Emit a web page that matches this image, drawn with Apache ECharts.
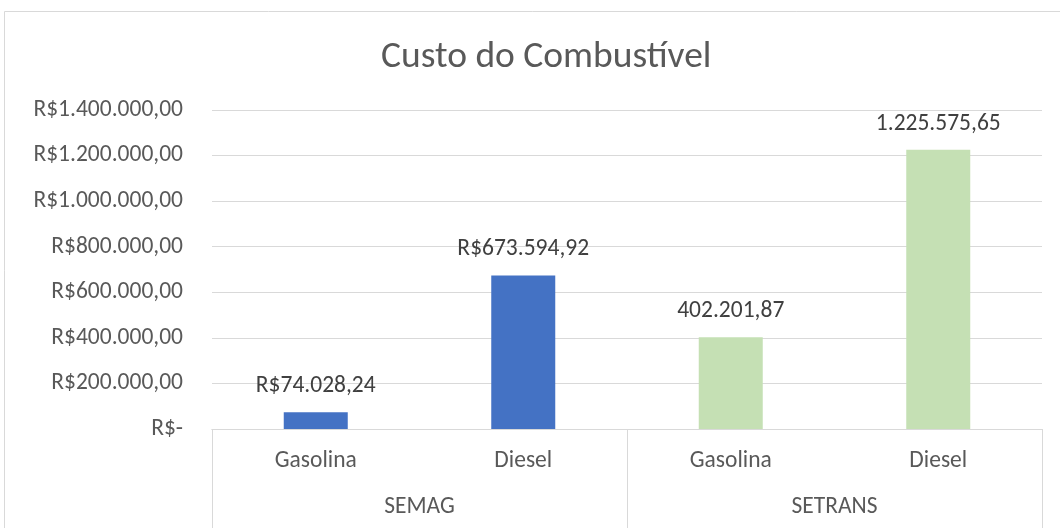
<!DOCTYPE html>
<html>
<head>
<meta charset="utf-8">
<script src="https://cdn.jsdelivr.net/npm/echarts@6/dist/echarts.min.js"></script>
<style>html,body{margin:0;padding:0;background:#fff}#c{width:1060px;height:528px}</style>
</head>
<body>
<div id="c"></div>
<script>
const titleText = 'Custo do Combustível';
const categories = ['Gasolina', 'Diesel', 'Gasolina', 'Diesel'];
const groups = ['SEMAG', 'SETRANS'];
const groupOfCategory = [0, 0, 1, 1];
const values = [74028.24, 673594.92, 402201.87, 1225575.65];
const labelPrefixByGroup = ['R$', ''];
const yMin = 0, yMax = 1400000, yStep = 200000;

const groupColors = ['#4472C4', '#C5E0B4'];
const FONT = 'Carlito, "Open Sans", sans-serif';
const FS = 23.5;

function fmt(v) {
  const parts = v.toFixed(2).split('.');
  return parts[0].replace(/\B(?=(\d{3})+(?!\d))/g, '.') + ',' + parts[1];
}

const chart = echarts.init(document.getElementById('c'), null, {renderer: 'canvas'});
chart.setOption({
  animation: false,
  backgroundColor: '#fff',
  graphic: [{
    type: 'rect', shape: {x: 4.5, y: 11.5, width: 1200, height: 700},
    style: {fill: 'none', stroke: '#d9d9d9', lineWidth: 1}, silent: true, z: -1
  }],
  title: {
    text: titleText, left: 376, top: 34,
    textStyle: {fontFamily: FONT, fontSize: 37.5, fontWeight: 'normal', color: '#595959'}
  },
  grid: {left: 212, right: 18, top: 110, bottom: 99, containLabel: false, outerBoundsMode: 'none'},
  xAxis: [{
    type: 'category', data: categories, position: 'bottom',
    axisLine: {show: true, lineStyle: {color: '#d9d9d9', width: 1}},
    axisTick: {show: false},
    axisLabel: {margin: 20, fontFamily: FONT, fontSize: FS, color: '#595959', interval: 0}
  }, {
    type: 'category', data: groups, position: 'bottom',
    axisLine: {show: true, lineStyle: {color: '#d9d9d9', width: 1}},
    axisTick: {show: true, length: 110, lineStyle: {color: '#d9d9d9', width: 1}},
    axisLabel: {margin: 66, fontFamily: FONT, fontSize: FS, color: '#595959', interval: 0}
  }],
  yAxis: {
    type: 'value', min: yMin, max: yMax, interval: yStep,
    axisLine: {show: false}, axisTick: {show: false},
    splitLine: {lineStyle: {color: '#d9d9d9', width: 1}},
    axisLabel: {
      margin: 29, fontFamily: FONT, fontSize: FS, color: '#595959',
      formatter: v => v === 0 ? 'R$-' : 'R$' + fmt(v)
    }
  },
  series: [{
    type: 'bar', xAxisIndex: 0, barWidth: 64,
    data: values.map((v, i) => ({value: v, itemStyle: {color: groupColors[groupOfCategory[i]]}})),
    label: {
      show: true, position: 'top', distance: 14,
      fontFamily: FONT, fontSize: FS, color: '#404040',
      formatter: p => labelPrefixByGroup[groupOfCategory[p.dataIndex]] + fmt(p.value)
    }
  }]
});
</script>
</body>
</html>
